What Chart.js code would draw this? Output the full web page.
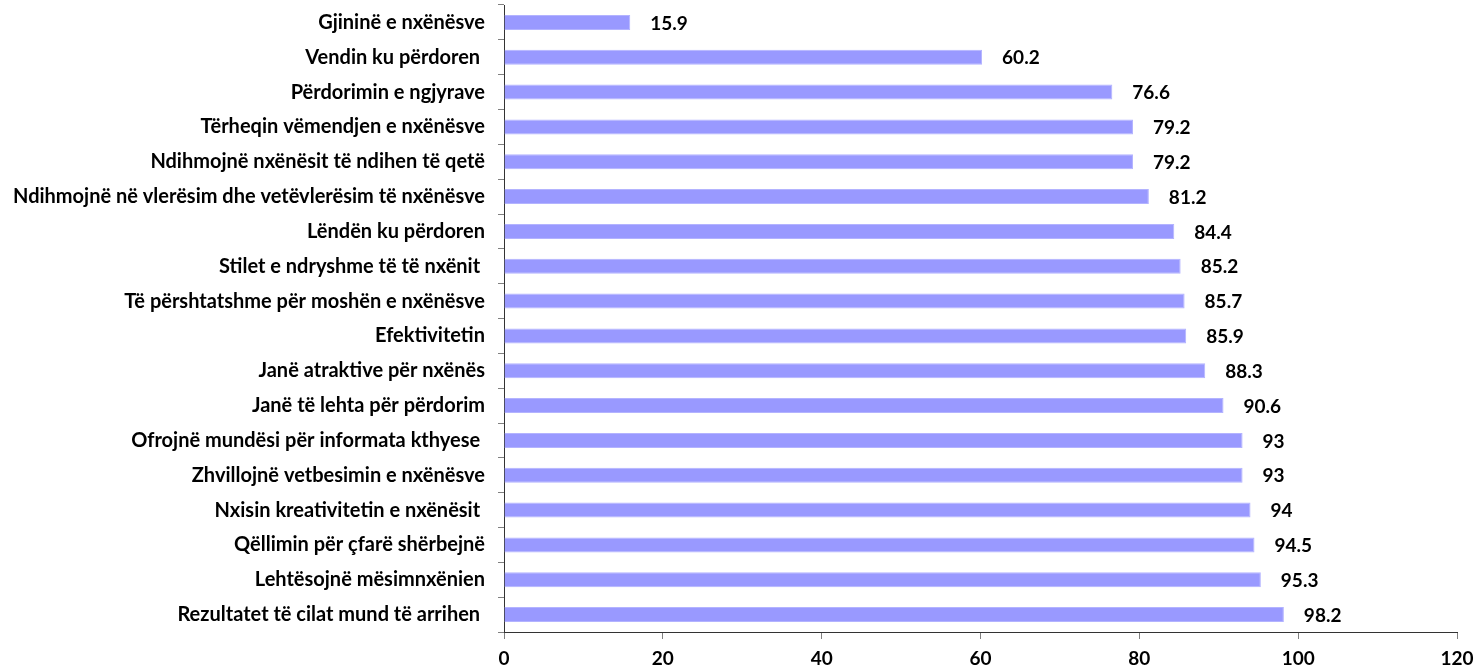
<!DOCTYPE html>
<html lang="sq">
<head>
<meta charset="UTF-8">
<title>Grafiku</title>
<script src="https://cdn.jsdelivr.net/npm/chart.js"></script>
<style>
  html,body{margin:0;padding:0;background:#fff;}
  #wrap{width:1484px;height:672px;position:relative;}
</style>
</head>
<body>
<div id="wrap"><canvas id="chart" width="1484" height="672"></canvas></div>
<script>
/* ==== të dhënat ==== */
const categories = [
  'Gjininë e nxënësve',
  'Vendin ku përdoren ',
  'Përdorimin e ngjyrave',
  'Tërheqin vëmendjen e nxënësve',
  'Ndihmojnë nxënësit të ndihen të qetë',
  'Ndihmojnë në vlerësim dhe vetëvlerësim të nxënësve',
  'Lëndën ku përdoren',
  'Stilet e ndryshme të të nxënit ',
  'Të përshtatshme për moshën e nxënësve',
  'Efektivitetin',
  'Janë atraktive për nxënës',
  'Janë të lehta për përdorim',
  'Ofrojnë mundësi për informata kthyese ',
  'Zhvillojnë vetbesimin e nxënësve',
  'Nxisin kreativitetin e nxënësit ',
  'Qëllimin për çfarë shërbejnë',
  'Lehtësojnë mësimnxënien',
  'Rezultatet të cilat mund të arrihen '
];
const values = [15.9, 60.2, 76.6, 79.2, 79.2, 81.2, 84.4, 85.2, 85.7, 85.9, 88.3, 90.6, 93, 93, 94, 94.5, 95.3, 98.2];
const xTicks = [0, 20, 40, 60, 80, 100, 120];

const FONT = 'Lato, "Open Sans", sans-serif';

/* ==== etiketat e vlerave ==== */
const valueLabels = {
  id:'valueLabels',
  afterDatasetsDraw(chart){
    const ctx = chart.ctx;
    const meta = chart.getDatasetMeta(0);
    ctx.save();
    ctx.font = 'bold 19px ' + FONT;
    ctx.fillStyle = '#000';
    ctx.textAlign = 'left';
    ctx.textBaseline = 'middle';
    meta.data.forEach((bar, i) => {
      ctx.fillText(String(values[i]), bar.x + 20, bar.y + 1);
    });
    ctx.restore();
  }
};

new Chart(document.getElementById('chart'), {
  type:'bar',
  data:{
    labels:categories,
    datasets:[{
      data:values,
      backgroundColor:'#9999ff',
      borderColor:'#b3b3ff',
      borderWidth:1,
      barPercentage:0.43,
      categoryPercentage:1
    }]
  },
  options:{
    indexAxis:'y',
    responsive:false,
    animation:false,
    layout:{padding:{top:5, right:27, bottom:0, left:0}},
    plugins:{legend:{display:false}, tooltip:{enabled:false}},
    scales:{
      x:{
        min:0, max:120,
        afterBuildTicks: s => { s.ticks = xTicks.map(v => ({value:v})); },
        afterFit: s => { s.height = 40; },
        grid:{drawOnChartArea:false, tickLength:7, color:'#808080'},
        border:{color:'#333', width:1},
        ticks:{font:{family:FONT, size:19, weight:'bold'}, color:'#000', padding:8, maxRotation:0}
      },
      y:{
        afterFit: s => { s.width = 504; s.paddingTop = 0; s.paddingBottom = 0; },
        grid:{drawOnChartArea:false, tickLength:6, color:'#808080', offset:true},
        border:{color:'#333', width:1},
        ticks:{font:{family:FONT, size:20, weight:'bold'}, color:'#000', padding:13, autoSkip:false}
      }
    }
  },
  plugins:[valueLabels]
});
</script>
</body>
</html>
